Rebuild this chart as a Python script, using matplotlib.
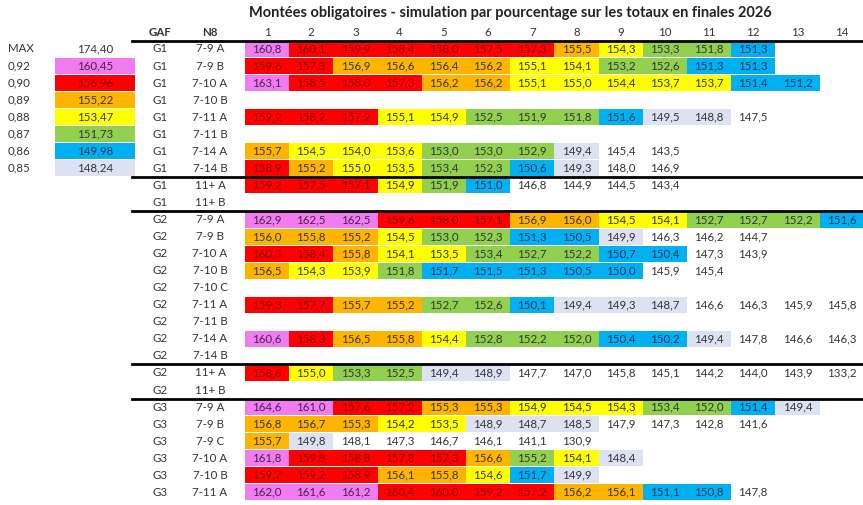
import matplotlib
matplotlib.use("Agg")
import matplotlib.pyplot as plt
from matplotlib.patches import Rectangle

plt.rcParams['font.family'] = ['Lato', 'DejaVu Sans']

title = "Montées obligatoires - simulation par pourcentage sur les totaux en finales 2026"
col_labels = [str(i) for i in range(1, 15)]
legend_labels = ["MAX", "0,92", "0,90", "0,89", "0,88", "0,87", "0,86", "0,85"]
legend_values = [174.40, 160.45, 156.96, 155.22, 153.47, 151.73, 149.98, 148.24]

gaf = ["G1"]*10 + ["G2"]*11 + ["G3"]*7
n8 = ["7-9 A", "7-9 B", "7-10 A", "7-10 B", "7-11 A", "7-11 B", "7-14 A", "7-14 B", "11+ A", "11+ B",
      "7-9 A", "7-9 B", "7-10 A", "7-10 B", "7-10 C", "7-11 A", "7-11 B", "7-14 A", "7-14 B", "11+ A", "11+ B",
      "7-9 A", "7-9 B", "7-9 C", "7-10 A", "7-10 B", "7-11 A", "7-11 B"]
values = [
    [160.8,160.1,159.9,158.4,158.0,157.5,157.3,155.5,154.3,153.3,151.8,151.3],
    [159.6,157.3,156.9,156.6,156.4,156.2,155.1,154.1,153.2,152.6,151.3,151.3],
    [163.1,158.5,158.0,157.3,156.2,156.2,155.1,155.0,154.4,153.7,153.7,151.4,151.2],
    [],
    [159.2,158.2,157.2,155.1,154.9,152.5,151.9,151.8,151.6,149.5,148.8,147.5],
    [],
    [155.7,154.5,154.0,153.6,153.0,153.0,152.9,149.4,145.4,143.5],
    [158.9,155.2,155.0,153.5,153.4,152.3,150.6,149.3,148.0,146.9],
    [159.2,157.5,157.1,154.9,151.9,151.0,146.8,144.9,144.5,143.4],
    [],
    [162.9,162.5,162.5,159.6,158.0,157.1,156.9,156.0,154.5,154.1,152.7,152.7,152.2,151.6],
    [156.0,155.8,155.2,154.5,153.0,152.3,151.3,150.5,149.9,146.3,146.2,144.7],
    [160.3,158.4,155.8,154.1,153.5,153.4,152.7,152.2,150.7,150.4,147.3,143.9],
    [156.5,154.3,153.9,151.8,151.7,151.5,151.3,150.5,150.0,145.9,145.4],
    [],
    [159.3,157.7,155.7,155.2,152.7,152.6,150.1,149.4,149.3,148.7,146.6,146.3,145.9,145.8],
    [],
    [160.6,158.3,156.5,155.8,154.4,152.8,152.2,152.0,150.4,150.2,149.4,147.8,146.6,146.3],
    [],
    [158.6,155.0,153.3,152.5,149.4,148.9,147.7,147.0,145.8,145.1,144.2,144.0,143.9,133.2],
    [],
    [164.6,161.0,157.6,157.2,155.3,155.3,154.9,154.5,154.3,153.4,152.0,151.4,149.4],
    [156.8,156.7,155.3,154.2,153.5,148.9,148.7,148.5,147.9,147.3,142.8,141.6],
    [155.7,149.8,148.1,147.3,146.7,146.1,141.1,130.9],
    [161.8,159.8,158.8,157.8,157.3,156.6,155.2,154.1,148.4],
    [159.7,159.2,158.9,156.1,155.8,154.6,151.7,149.9],
    [162.0,161.6,161.2,160.4,160.0,159.2,157.2,156.2,156.1,151.1,150.8,147.8],
    [],
]
# band index overrides where the rounded value is ambiguous (row, col) -> band
overrides = {(24, 6): 4, (25, 6): 5}
group_lines_after = [7, 9, 18, 20]

colors = ["#F07CF0", "#FF0000", "#FFB400", "#FFFF00", "#92D050", "#00B0F0", "#DDE2F2"]
txtcol = ["#4a2050", "#8B0000", "#333333", "#333333", "#333333", "#123a60", "#333333"]
thresholds = [160.45, 156.96, 155.15, 153.47, 151.75, 149.98, 148.24]

def band(v):
    for i, t in enumerate(thresholds):
        if v >= t - 1e-9:
            return i
    return None

W, H = 863, 505
fig = plt.figure(figsize=(W/100, H/100), dpi=100)
ax = fig.add_axes([0, 0, 1, 1])
ax.set_xlim(0, W); ax.set_ylim(H, 0); ax.axis('off')

fs = 8.3
row0, rh = 49, 17.05
col0, cw = 267, 44.2
tc = "#333333"

ax.text(510, 13, title, ha='center', va='center', fontsize=10.5, fontweight='bold', color='#222222')
ax.text(160, 32, "GAF", ha='center', va='center', fontsize=fs, fontweight='bold', color=tc)
ax.text(210, 32, "N8", ha='center', va='center', fontsize=fs, fontweight='bold', color=tc)
for j, c in enumerate(col_labels):
    ax.text(col0 + j*cw, 32, c, ha='center', va='center', fontsize=fs, color=tc)
ax.plot([132, W], [41, 41], color='black', lw=2)

for r in range(len(n8)):
    y = row0 + r*rh
    ax.text(160, y, gaf[r], ha='center', va='center', fontsize=fs, color=tc)
    ax.text(210, y, n8[r], ha='center', va='center', fontsize=fs, color=tc)
    for j, v in enumerate(values[r]):
        x = col0 + j*cw
        b = overrides.get((r, j), band(v))
        if b is not None:
            ax.add_patch(Rectangle((x - cw/2, y - rh/2 + 0.5), cw, rh - 1, color=colors[b], lw=0))
            c = txtcol[b]
        else:
            c = tc
        ax.text(x, y, f"{v:.1f}".replace('.', ','), ha='center', va='center', fontsize=fs, color=c)
for r in group_lines_after:
    y = row0 + (r + 0.5)*rh
    ax.plot([132, W], [y, y], color='black', lw=2)

for i, (lab, v) in enumerate(zip(legend_labels, legend_values)):
    y = row0 + i*rh
    ax.text(8, y, lab, ha='left', va='center', fontsize=fs, color=tc)
    if i > 0:
        ax.add_patch(Rectangle((55, y - rh/2 + 0.5), 80, rh - 1, color=colors[i-1], lw=0))
        c = txtcol[i-1]
    else:
        c = tc
    ax.text(95, y, f"{v:.2f}".replace('.', ','), ha='center', va='center', fontsize=fs, color=c)

fig.savefig("out.png", dpi=100)
